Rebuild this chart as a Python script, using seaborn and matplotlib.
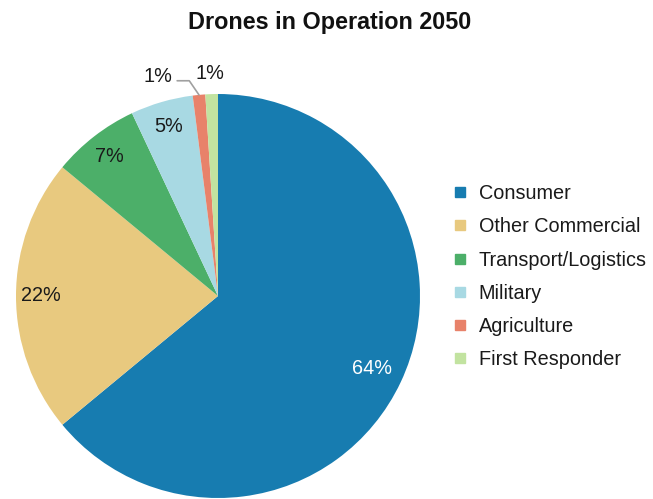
import numpy as np
import matplotlib
matplotlib.use("Agg")
import matplotlib.pyplot as plt
import seaborn as sns
from matplotlib.lines import Line2D

categories = ["Consumer", "Other Commercial", "Transport/Logistics",
              "Military", "Agriculture", "First Responder"]
shares = [64, 22, 7, 5, 1, 1]
pct_labels = ["64%", "22%", "7%", "5%", "1%", "1%"]
colors = ["#177cb0", "#e8c97f", "#4caf69", "#a8d9e3", "#e8826a", "#c2e3a0"]

sns.set_theme(style="white")
plt.rcParams["font.family"] = ["Liberation Sans", "DejaVu Sans"]
palette = sns.color_palette(colors)

W, H = 653, 499
fig = plt.figure(figsize=(W / 100, H / 100), dpi=100)
cx, cy, r = 218, 296, 202
ax = fig.add_axes([(cx - r) / W, (H - cy - r) / H, 2 * r / W, 2 * r / H])

wedges, _ = ax.pie(shares, colors=palette, startangle=90, counterclock=False,
                   radius=1.0, wedgeprops=dict(linewidth=0))
ax.set_xlim(-1, 1)
ax.set_ylim(-1, 1)
ax.set_aspect("equal")
ax.axis("off")

lab_fs = 14.3
for i, (w, lab) in enumerate(zip(wedges, pct_labels)):
    mid = np.deg2rad((w.theta1 + w.theta2) / 2)
    if i < 4:
        d = 0.84 if i == 0 else 0.875
        ax.text(d * np.cos(mid), d * np.sin(mid), lab, ha="center", va="center",
                fontsize=lab_fs, color="white" if i == 0 else "#1a1a1a")
    elif i == 4:
        # leader line for the thin Agriculture wedge
        x0, y0 = np.cos(mid), np.sin(mid)
        x1, y1 = 1.075 * np.cos(np.deg2rad(97.6)), 1.075 * np.sin(np.deg2rad(97.6))
        ax.plot([x0, x1, x1 - 0.06], [y0, y1, y1], color="#a0a0a0", lw=1.2,
                clip_on=False)
        ax.text(x1 - 0.085, y1 + 0.02, lab, ha="right", va="center",
                fontsize=lab_fs, color="#1a1a1a")
    else:
        ax.text(-0.04, 1.1, lab, ha="center", va="center", fontsize=lab_fs,
                color="#1a1a1a")

fig.text(0.5 + 3 / W, 1 - 22 / H, "Drones in Operation 2050", ha="center",
         va="center", fontsize=16.8, fontweight="bold", color="#111111")

handles = [Line2D([0], [0], marker="s", linestyle="none", markersize=7.5,
                  markerfacecolor=c, markeredgecolor=c) for c in palette]
fig.legend(handles, categories, loc="upper left",
           bbox_to_anchor=(442 / W, 1 - 176 / H), frameon=False,
           fontsize=14.3, labelspacing=0.72, handletextpad=0.45,
           handlelength=1.0, borderaxespad=0, labelcolor="#1a1a1a")

fig.savefig("out.png", dpi=100)
